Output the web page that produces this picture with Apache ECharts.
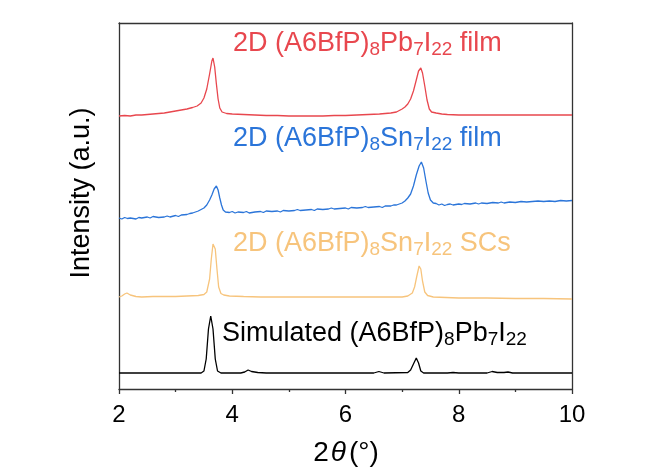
<!DOCTYPE html>
<html>
<head>
<meta charset="utf-8">
<script src="https://cdn.jsdelivr.net/npm/echarts@6/dist/echarts.min.js"></script>
<style>html,body{margin:0;padding:0;background:#fff}#c{width:665px;height:474px}</style>
</head>
<body>
<div id="c"></div>
<script>
// ---- data (intensity in arbitrary units, offsets included) ----
const xTicks = [2, 4, 6, 8, 10];

const pbFilmX = [2.0,2.1,2.2,2.3,2.4,2.5,2.6,2.7,2.8,2.9,3.0,3.1,3.2,3.3,3.38,3.45,3.5,3.55,3.6,3.64,3.66,3.69,3.72,3.75,3.78,3.82,3.9,4.0,4.2,4.4,4.6,4.8,5.0,5.2,5.4,5.6,5.8,6.0,6.2,6.4,6.6,6.8,6.9,7.0,7.05,7.1,7.15,7.2,7.25,7.29,7.33,7.36,7.4,7.44,7.48,7.52,7.6,7.7,7.8,8.0,8.5,9.0,9.5,10.0];
const pbFilmY = [273,273.5,273,274,274,274.5,275,275.5,276,277,278,279,280,281.5,283,286,291,300,315,328,331,322,305,290,281,277,275.5,275,274.5,274,273.5,273.5,273,273,273,273,273.5,273.5,274,274.5,275,276,277,280,282,285,290,298,309,318,321,316,303,289,280,277,276,275,274.5,274,274,274,274,274];

const snFilmX = [2.0,2.05,2.1,2.15,2.2,2.3,2.35,2.4,2.5,2.55,2.6,2.7,2.8,2.85,2.9,3.0,3.05,3.1,3.2,3.25,3.3,3.35,3.4,3.45,3.5,3.55,3.6,3.64,3.68,3.72,3.75,3.78,3.81,3.84,3.88,3.95,4.0,4.05,4.1,4.2,4.25,4.3,4.4,4.5,4.55,4.6,4.7,4.8,4.85,4.9,5.0,5.1,5.15,5.2,5.3,5.4,5.45,5.5,5.6,5.7,5.75,5.8,5.9,6.0,6.05,6.1,6.2,6.3,6.35,6.4,6.5,6.6,6.65,6.7,6.8,6.85,6.9,6.95,7.0,7.05,7.1,7.15,7.2,7.25,7.3,7.34,7.38,7.42,7.46,7.5,7.55,7.6,7.65,7.7,7.75,7.8,7.85,7.9,8.0,8.05,8.1,8.2,8.3,8.35,8.4,8.5,8.6,8.7,8.75,8.8,8.9,9.0,9.1,9.2,9.3,9.4,9.5,9.6,9.7,9.8,9.9,10.0];
const snFilmY = [171,170,171.5,170.5,171,170,171.5,171,172,171,172.5,171.5,172,173,172,173.5,172.5,174,174.5,175.5,176,177,178,179.5,181,184,189,194,200,203,199,191,184,179,177,176.5,177.5,176,177,176.5,177.5,176,177,177.5,176.5,178,177.5,178,177,178.5,178,178.5,179.5,178.5,179,179.5,178.5,180,179.5,180,181,180,180.5,181,180,181.5,181,181.5,182.5,181.5,182,182.5,181.5,183,183,184,184,185,186,188,191,195,203,214,223,227,221,208,196,189,186,185.5,184,185,183.5,184.5,185,184,185,184.5,185.5,185,186,185,186,185.5,186.5,186,187,186,187,186.5,187.5,187,187.5,188,187.5,188,187.5,188.5,188,188.5];

const snScX = [2.0,2.05,2.1,2.14,2.2,2.3,2.4,2.6,2.8,3.0,3.2,3.4,3.5,3.55,3.6,3.63,3.66,3.68,3.7,3.73,3.76,3.8,3.85,3.95,4.2,4.5,5.0,5.5,6.0,6.5,7.0,7.1,7.18,7.22,7.26,7.3,7.33,7.36,7.4,7.45,7.55,8.0,8.5,9.0,9.5,10.0];
const snScY = [92,93,95,96,94,92.5,92,92.5,92.5,92.5,93,93.5,94.5,97,110,130,145,147,140,120,102,95.5,94,93,92.5,92,92,92,92,92,92,93,96,102,113,123,120,108,97,93.5,92,91,91,90.5,90.5,90];

const simX = [2.0,3.0,3.45,3.5,3.54,3.58,3.62,3.66,3.7,3.74,3.8,4.15,4.22,4.28,4.34,4.45,4.6,6.5,6.59,6.68,7.1,7.15,7.2,7.25,7.29,7.33,7.38,7.8,7.9,8.0,8.5,8.59,8.68,8.8,8.87,8.95,10.0];
const simY = [16,16,16,18,30,60,73,60,30,18,16,16,17,19,17.5,16.5,16,16,17.5,16,16.5,19,25,31,26,18,16,16,16.5,16,16,17.5,16.5,16.5,17,16,16];

const seriesNames = ['2D (A6BfP)8Pb7I22 film','2D (A6BfP)8Sn7I22 film','2D (A6BfP)8Sn7I22 SCs','Simulated (A6BfP)8Pb7I22'];
const colors = ['#E8474E','#2B75D9','#F7C47C','#000000'];

function pairs(xs, ys){ return xs.map((x,i)=>[x, ys[i]]); }

const FONT = 'Arial, "Liberation Sans", sans-serif';
const richStyles = (c) => ({
  m: {fontSize: 27, fontFamily: FONT, fill: c, lineHeight: 32},
  s: {fontSize: 19, fontFamily: FONT, fill: c, lineHeight: 12, verticalAlign: 'bottom'}
});

const chart = echarts.init(document.getElementById('c'), null, {renderer: 'canvas'});
const frameColor = '#333333';
chart.setOption({
  animation: false,
  backgroundColor: '#ffffff',
  grid: {left: 119, right: 93, top: 23, bottom: 85, show: false},
  xAxis: [{
    type: 'value', min: 2, max: 10, interval: 2,
    axisLine: {show: true, onZero: false, lineStyle: {color: frameColor, width: 1.3}},
    axisTick: {show: true, length: 5, lineStyle: {color: frameColor, width: 1.3}},
    minorTick: {show: true, splitNumber: 2, length: 3, lineStyle: {color: frameColor, width: 1.3}},
    splitLine: {show: false},
    axisLabel: {fontSize: 24, color: '#000', fontFamily: FONT, margin: 14}
  },{
    type: 'value', min: 2, max: 10, position: 'top',
    axisLine: {show: true, onZero: false, lineStyle: {color: frameColor, width: 1.3}},
    axisTick: {show: false}, axisLabel: {show: false}, splitLine: {show: false}
  }],
  yAxis: [{
    type: 'value', min: 0, max: 366,
    axisLine: {show: true, onZero: false, lineStyle: {color: frameColor, width: 1.3}},
    axisTick: {show: false}, axisLabel: {show: false}, splitLine: {show: false}
  },{
    type: 'value', min: 0, max: 366, position: 'right',
    axisLine: {show: true, onZero: false, lineStyle: {color: frameColor, width: 1.3}},
    axisTick: {show: false}, axisLabel: {show: false}, splitLine: {show: false}
  }],
  series: [
    {name: seriesNames[0], type: 'line', data: pairs(pbFilmX, pbFilmY)},
    {name: seriesNames[1], type: 'line', data: pairs(snFilmX, snFilmY)},
    {name: seriesNames[2], type: 'line', data: pairs(snScX, snScY)},
    {name: seriesNames[3], type: 'line', data: pairs(simX, simY)}
  ].map((s,i)=>Object.assign(s, {showSymbol: false, symbol: 'none', smooth: false,
      lineStyle: {color: colors[i], width: 1.3}, itemStyle: {color: colors[i]}})),
  graphic: [
    {type: 'text', left: 233, top: 30, style: {text: '{m|2D (A6BfP)}{s|8}{m|Pb}{s|7}{m|I}{s|22}{m| film}', rich: richStyles(colors[0])}},
    {type: 'text', left: 233, top: 125, style: {text: '{m|2D (A6BfP)}{s|8}{m|Sn}{s|7}{m|I}{s|22}{m| film}', rich: richStyles(colors[1])}},
    {type: 'text', left: 233, top: 230, style: {text: '{m|2D (A6BfP)}{s|8}{m|Sn}{s|7}{m|I}{s|22}{m| SCs}', rich: richStyles(colors[2])}},
    {type: 'text', left: 222, top: 320, style: {text: '{m|Simulated (A6BfP)}{s|8}{m|Pb}{s|7}{m|I}{s|22}', rich: richStyles('#000')}},
    {type: 'text', x: 82, y: 193, rotation: Math.PI/2, style: {text: 'Intensity (a.u.)', font: '27px ' + FONT, fill: '#000', align: 'center', verticalAlign: 'middle'}},
    {type: 'text', x: 346, y: 453, style: {text: '{n|2}{i|θ}{n|(°)}', align: 'center', verticalAlign: 'middle',
      rich: {n: {fontSize: 28, fontFamily: FONT, fill: '#000'}, i: {fontSize: 28, fontFamily: FONT, fontStyle: 'italic', fill: '#000', padding: [0,3,0,2]}}}}
  ]
});
</script>
</body>
</html>
